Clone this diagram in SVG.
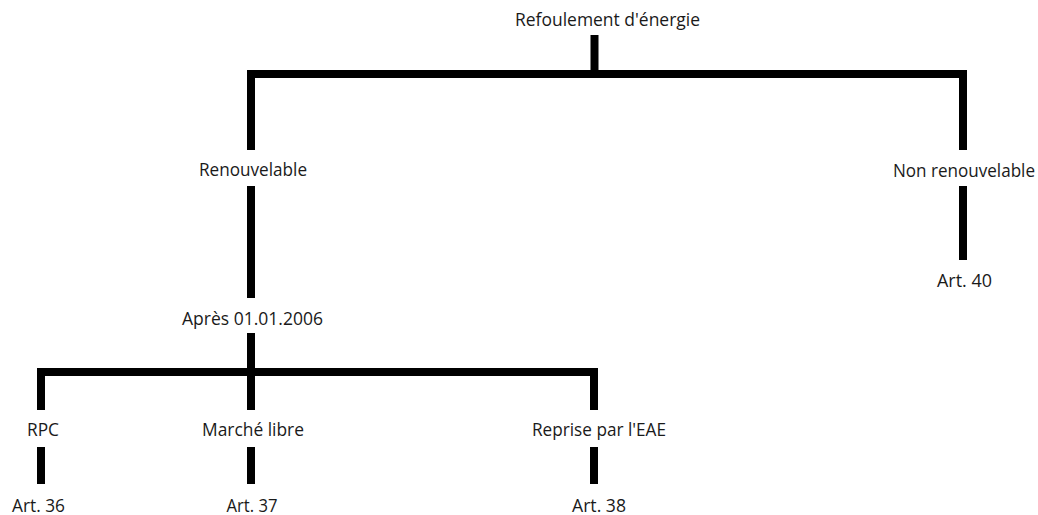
<svg xmlns="http://www.w3.org/2000/svg" width="1038" height="515" viewBox="0 0 1038 515">
<style>
.t{font-family:"Open Sans","Liberation Sans",sans-serif;font-size:17.5px;fill:#1a1a1a;text-anchor:middle}
.c{fill:none;stroke:#000;stroke-width:8;stroke-linecap:butt;stroke-linejoin:miter}
</style>
<rect width="1038" height="515" fill="#fff"/>
<g id="connectors">
<line class="c" x1="594.5" y1="35" x2="594.5" y2="74"/>
<polyline class="c" points="251,150 251,74 963,74 963,150"/>
<line class="c" x1="251" y1="186" x2="251" y2="298"/>
<line class="c" x1="963" y1="186" x2="963" y2="260"/>
<line class="c" x1="251" y1="333" x2="251" y2="410"/>
<polyline class="c" points="41,410 41,372 594,372 594,410"/>
<line class="c" x1="41" y1="447" x2="41" y2="484"/>
<line class="c" x1="251" y1="447" x2="251" y2="484"/>
<line class="c" x1="594" y1="447" x2="594" y2="484"/>
</g>
<g id="root"><text class="t" x="607.5" y="26" textLength="185" lengthAdjust="spacingAndGlyphs">Refoulement d'énergie</text></g>
<g id="renouvelable"><text class="t" x="253" y="176" textLength="108" lengthAdjust="spacingAndGlyphs">Renouvelable</text></g>
<g id="non-renouvelable"><text class="t" x="964" y="177" textLength="142" lengthAdjust="spacingAndGlyphs">Non renouvelable</text></g>
<g id="art40"><text class="t" x="964.5" y="287" textLength="55" lengthAdjust="spacingAndGlyphs">Art. 40</text></g>
<g id="apres"><text class="t" x="252.5" y="325" textLength="141" lengthAdjust="spacingAndGlyphs">Après 01.01.2006</text></g>
<g id="rpc"><text class="t" x="43" y="436" textLength="32" lengthAdjust="spacingAndGlyphs">RPC</text></g>
<g id="marche-libre"><text class="t" x="253" y="436" textLength="102" lengthAdjust="spacingAndGlyphs">Marché libre</text></g>
<g id="reprise"><text class="t" x="599" y="436" textLength="134" lengthAdjust="spacingAndGlyphs">Reprise par l'EAE</text></g>
<g id="art36"><text class="t" x="38.5" y="512" textLength="53" lengthAdjust="spacingAndGlyphs">Art. 36</text></g>
<g id="art37"><text class="t" x="252" y="512" textLength="51" lengthAdjust="spacingAndGlyphs">Art. 37</text></g>
<g id="art38"><text class="t" x="599" y="512" textLength="54" lengthAdjust="spacingAndGlyphs">Art. 38</text></g>
</svg>
